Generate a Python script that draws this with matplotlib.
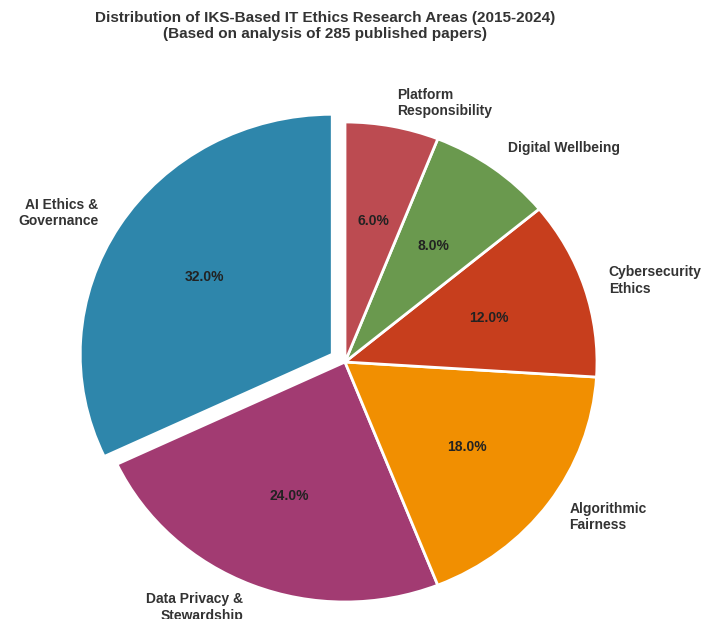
import matplotlib.pyplot as plt

areas = [
    "AI Ethics &\nGovernance",
    "Data Privacy &\nStewardship",
    "Algorithmic\nFairness",
    "Cybersecurity\nEthics",
    "Digital Wellbeing",
    "Platform\nResponsibility",
]
shares = [32, 24, 18, 12, 8, 6]
colors = ["#2E86AB", "#A23B72", "#F18F01", "#C73E1D", "#6A994E", "#BC4B51"]
explode = [0.06, 0, 0, 0, 0, 0]

plt.rcParams["font.family"] = ["Liberation Sans", "DejaVu Sans"]

fig = plt.figure(figsize=(7.04, 6.19), dpi=100)
# axes placed in pixels so the pie sits where it should
W, H = 704, 619
cx, cy = 345, 619 - 362
rx, ry = 252, 240
lim = 1.25
ax = fig.add_axes([(cx - lim * rx) / W, (cy - lim * ry) / H,
                   2 * lim * rx / W, 2 * lim * ry / H])

wedges, texts, autotexts = ax.pie(
    shares,
    labels=areas,
    colors=colors,
    explode=explode,
    startangle=90,
    autopct="%1.1f%%",
    pctdistance=0.6,
    labeldistance=1.1,
    wedgeprops=dict(edgecolor="white", linewidth=2),
    textprops=dict(fontsize=10, fontweight="bold", color="#333333"),
)
for t in autotexts:
    t.set_fontsize(10)
    t.set_color("#222222")

ax.set_aspect("auto")
ax.set_xlim(-lim, lim)
ax.set_ylim(-lim, lim)

fig.text(325 / W, 1 - 26 / H,
         "Distribution of IKS-Based IT Ethics Research Areas (2015-2024)\n"
         "(Based on analysis of 285 published papers)",
         ha="center", va="center", fontsize=11, fontweight="bold",
         color="#333333", linespacing=1.2)

fig.savefig("out.png", dpi=100)
